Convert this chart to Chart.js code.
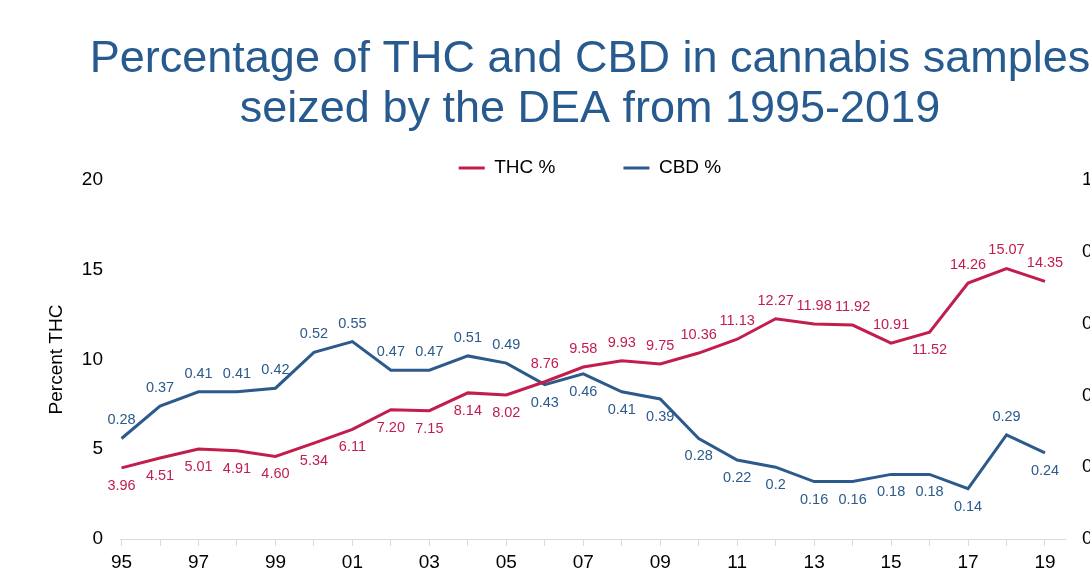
<!DOCTYPE html>
<html>
<head>
<meta charset="utf-8">
<script src="https://cdn.jsdelivr.net/npm/chart.js@4.4.1/dist/chart.umd.min.js"></script>
<style>
html, body { margin: 0; padding: 0; background: #ffffff; overflow: hidden; width: 1090px; height: 575px; }
#wrap { width: 1180px; height: 575px; }
canvas { display: block; }
</style>
</head>
<body>
<div id="wrap"><canvas id="chart" width="1180" height="575"></canvas></div>
<script>
// ---- data ----
const years = [1995, 1996, 1997, 1998, 1999, 2000, 2001, 2002, 2003, 2004, 2005, 2006,
               2007, 2008, 2009, 2010, 2011, 2012, 2013, 2014, 2015, 2016, 2017, 2018, 2019];
const xTickLabels = ['95', '', '97', '', '99', '', '01', '', '03', '', '05', '', '07',
                     '', '09', '', '11', '', '13', '', '15', '', '17', '', '19'];
const thcPercent = [3.96, 4.51, 5.01, 4.91, 4.60, 5.34, 6.11, 7.20, 7.15, 8.14, 8.02, 8.76,
                    9.58, 9.93, 9.75, 10.36, 11.13, 12.27, 11.98, 11.92, 10.91, 11.52, 14.26, 15.07, 14.35];
const cbdPercent = [0.28, 0.37, 0.41, 0.41, 0.42, 0.52, 0.55, 0.47, 0.47, 0.51, 0.49, 0.43,
                    0.46, 0.41, 0.39, 0.28, 0.22, 0.2, 0.16, 0.16, 0.18, 0.18, 0.14, 0.29, 0.24];
const thcTicks = [0, 5, 10, 15, 20];
const cbdTicks = [0, 0.2, 0.4, 0.6, 0.8, 1.0];
const seriesNames = ['THC %', 'CBD %'];
const titleLines = ['Percentage of THC and CBD in cannabis samples', 'seized by the DEA from 1995-2019'];
// which side of the line each value label sits on
const thcLabelSide = ['below','below','below','below','below','below','below','below','below','below','below',
                      'above','above','above','above','above','above','above','above','above','above',
                      'below','above','above','above'];
const cbdLabelSide = ['above','above','above','above','above','above','above','above','above','above','above',
                      'below','below','below','below','below','below','below','below','below','below','below','below',
                      'above','below'];

// ---- styles ----
const FONT = "'Liberation Sans', Arial, Helvetica, sans-serif";
const THC_COLOR = '#C21D4D';
const CBD_COLOR = '#2C5A8C';
const TITLE_COLOR = '#275A8E';
Chart.defaults.font.family = FONT;

const valueLabels = {
  id: 'valueLabels',
  afterDatasetsDraw(chart, args, opts) {
    const ctx = chart.ctx;
    chart.data.datasets.forEach((ds, di) => {
      const meta = chart.getDatasetMeta(di);
      const cfg = opts.series[di];
      ctx.save();
      ctx.font = '14.5px ' + FONT;
      ctx.fillStyle = cfg.color;
      ctx.textAlign = 'center';
      ctx.textBaseline = 'middle';
      meta.data.forEach((pt, i) => {
        const v = ds.data[i].y;
        const text = cfg.format(v);
        const dy = cfg.side[i] === 'above' ? -18 : 18;
        ctx.fillText(text, pt.x, pt.y + dy);
      });
      ctx.restore();
    });
  }
};

new Chart(document.getElementById('chart'), {
  type: 'line',
  data: {
    datasets: [
      {
        label: seriesNames[0],
        data: years.map((y, i) => ({ x: y, y: thcPercent[i] })),
        yAxisID: 'y',
        borderColor: THC_COLOR,
        backgroundColor: THC_COLOR,
        borderWidth: 3,
        pointRadius: 0,
        tension: 0,
        fill: false
      },
      {
        label: seriesNames[1],
        data: years.map((y, i) => ({ x: y, y: cbdPercent[i] })),
        yAxisID: 'y1',
        borderColor: CBD_COLOR,
        backgroundColor: CBD_COLOR,
        borderWidth: 3,
        pointRadius: 0,
        tension: 0,
        fill: false
      }
    ]
  },
  options: {
    responsive: false,
    animation: false,
    events: [],
    layout: { padding: 0 },
    plugins: {
      title: {
        display: true,
        text: titleLines,
        color: TITLE_COLOR,
        font: { size: 45, weight: 'normal', lineHeight: 1.11 },
        padding: { top: 35, bottom: -44.5 }
      },
      legend: {
        display: true,
        position: 'top',
        maxHeight: 89.6,
        labels: {
          usePointStyle: true,
          pointStyle: 'line',
          pointStyleWidth: 26,
          padding: 68,
          color: '#000000',
          font: { size: 19 }
        }
      },
      tooltip: { enabled: false },
      valueLabels: {
        series: [
          { color: THC_COLOR, side: thcLabelSide, format: v => v.toFixed(2) },
          { color: CBD_COLOR, side: cbdLabelSide, format: v => String(v) }
        ]
      }
    },
    scales: {
      x: {
        type: 'linear',
        min: 1994.96,
        max: 2019.52,
        afterBuildTicks: s => { s.ticks = years.map(v => ({ value: v })); },
        afterFit: s => { s.height = 36; },
        grid: { display: true, drawOnChartArea: false, drawTicks: true, tickLength: 7, color: '#d9d9d9', lineWidth: 1 },
        border: { display: true, color: '#d9d9d9', width: 1 },
        ticks: {
          autoSkip: false, maxRotation: 0, padding: 5, color: '#000000',
          font: { size: 19 },
          callback: v => { const k = years.indexOf(v); return k >= 0 ? xTickLabels[k] : ''; }
        }
      },
      y: {
        position: 'left',
        min: 0, max: 20,
        afterBuildTicks: s => { s.ticks = thcTicks.map(v => ({ value: v })); },
        afterFit: s => { s.width = 120; },
        grid: { display: false, drawTicks: false },
        border: { display: false },
        ticks: { padding: 17, color: '#000000', font: { size: 19 } },
        title: { display: true, text: 'Percent THC', color: '#000000', font: { size: 19 }, padding: { top: 45, bottom: 0 } }
      },
      y1: {
        position: 'right',
        min: 0, max: 1,
        afterBuildTicks: s => { s.ticks = cbdTicks.map(v => ({ value: v })); },
        afterFit: s => { s.width = 115; },
        grid: { display: false, drawTicks: false },
        border: { display: false },
        ticks: { padding: 17, color: '#000000', font: { size: 19 }, callback: v => v.toFixed(1) },
        title: { display: true, text: 'Percent CBD', color: '#000000', font: { size: 19 }, padding: { top: 10, bottom: 0 } }
      }
    }
  },
  plugins: [valueLabels]
});
</script>
</body>
</html>
